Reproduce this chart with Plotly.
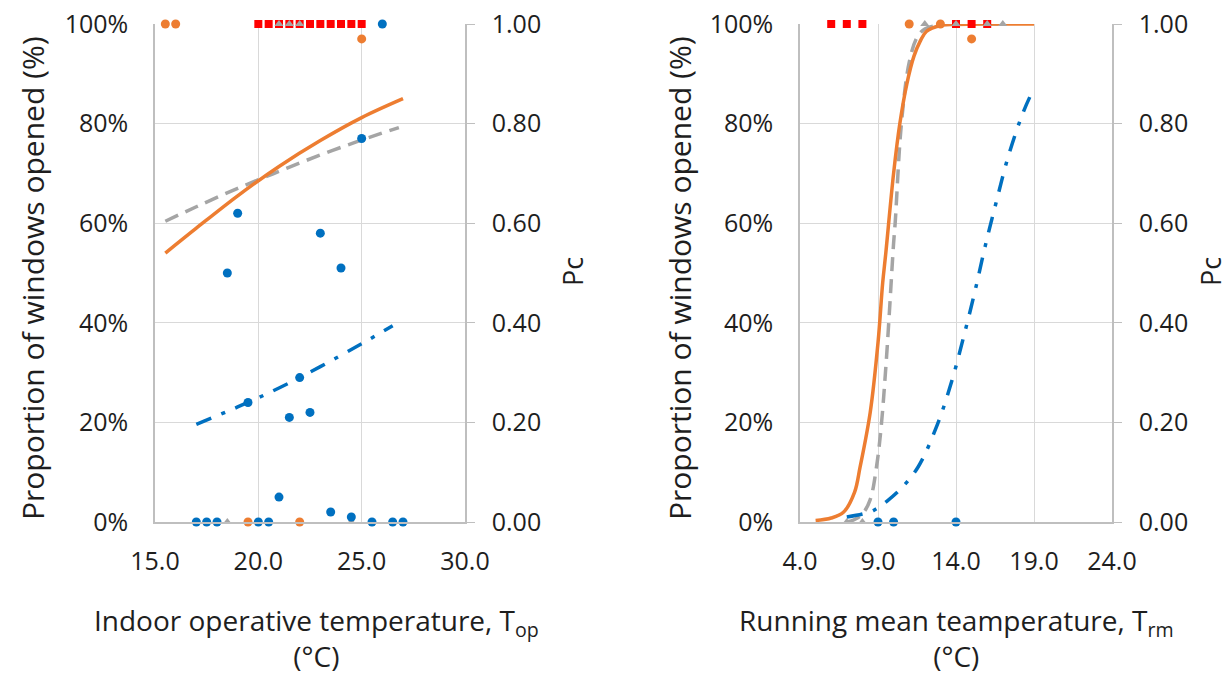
import plotly.graph_objects as go

# ---------------- Left panel: indoor operative temperature ----------------
L_blue_x = [26.0, 18.5, 19.0, 23.0, 24.0, 25.0, 19.5, 22.0, 21.5, 22.5, 21.0, 23.5, 24.5,
            17.0, 17.5, 18.0, 20.0, 20.5, 25.5, 26.5, 27.0]
L_blue_y = [1.00, 0.50, 0.62, 0.58, 0.51, 0.77, 0.24, 0.29, 0.21, 0.22, 0.05, 0.02, 0.01,
            0, 0, 0, 0, 0, 0, 0, 0]
L_orange_x = [15.5, 16.0, 25.0, 19.5, 22.0]
L_orange_y = [1.00, 1.00, 0.97, 0, 0]
L_gray_x = [21.0, 21.5, 22.0, 18.5, 24.5]
L_gray_y = [1, 1, 1, 0, 0]
L_red_x = [20.0, 20.5, 21.0, 21.5, 22.0, 22.5, 23.0, 23.5, 24.0, 24.5, 25.0]
L_red_y = [1] * 11

L_fit_orange_x = [15.5, 17, 19, 21, 23, 25, 27]
L_fit_orange_y = [0.54, 0.59, 0.655, 0.714, 0.766, 0.812, 0.85]
L_fit_gray_x = [15.5, 17, 19, 21, 23, 25, 26.8]
L_fit_gray_y = [0.604, 0.633, 0.670, 0.704, 0.737, 0.767, 0.792]
L_fit_blue_x = [17, 19, 21, 23, 25, 26.5]
L_fit_blue_y = [0.196, 0.231, 0.269, 0.312, 0.358, 0.394]

# ---------------- Right panel: running mean temperature ----------------
R_blue_x = [9.0, 10.0, 14.0]
R_blue_y = [0, 0, 0]
R_orange_x = [11.0, 13.0, 15.0]
R_orange_y = [1.00, 1.00, 0.97]
R_gray_x = [12.0, 14.0, 16.0, 17.0, 7.0, 8.0]
R_gray_y = [1, 1, 1, 1, 0, 0]
R_red_x = [6.0, 7.0, 8.0, 14.0, 15.0, 16.0]
R_red_y = [1] * 6

R_fit_orange_x = [5, 6, 6.8, 7.5, 7.85, 8.5, 9, 9.3, 9.5, 10, 10.4, 10.85, 11.3, 11.7, 12.1, 13, 14, 16, 19]
R_fit_orange_y = [0.003, 0.008, 0.02, 0.06, 0.11, 0.22, 0.36, 0.48, 0.54, 0.70, 0.80, 0.88, 0.935, 0.965, 0.985, 0.997, 0.999, 1.0, 1.0]
R_fit_gray_x = [7.0, 7.5, 8.0, 8.5, 8.9, 9.2, 9.5, 9.7, 10.0, 10.1, 10.5, 11.0, 11.5, 12.0, 13.0, 14.0, 17.0]
R_fit_gray_y = [0.0, 0.005, 0.016, 0.045, 0.11, 0.19, 0.31, 0.406, 0.56, 0.60, 0.80, 0.923, 0.973, 0.99, 0.998, 1.0, 1.0]
R_fit_blue_x = [7.0, 8.0, 8.7, 9.62, 10.5, 11.58, 12.81, 13.74, 14.5, 15.22, 15.88, 16.6, 17.35, 18.31, 19.0]
R_fit_blue_y = [0.010, 0.016, 0.023, 0.043, 0.068, 0.111, 0.196, 0.284, 0.373, 0.464, 0.555, 0.645, 0.734, 0.823, 0.871]

ORANGE = "#ED7D31"
BLUE = "#0070C0"
GRAY = "#A5A5A5"
RED = "#FF0000"
TXT = "#1E1E1E"
GRID = "#D9D9D9"
AXL = "#BFBFBF"
FONT = "Open Sans"

fig = go.Figure()


def add_panel(xa, ya, fo, fg, fb, red, gray, orange, blue):
    common = dict(xaxis=xa, yaxis=ya, showlegend=False, hoverinfo="skip")
    fig.add_trace(go.Scatter(x=fg[0], y=fg[1], mode="lines", line=dict(color=GRAY, width=3.5, dash="14px,8px", shape="spline"), **common))
    fig.add_trace(go.Scatter(x=fb[0], y=fb[1], mode="lines", line=dict(color=BLUE, width=3.5, dash="16px,11px,4px,11px", shape="spline"), **common))
    fig.add_trace(go.Scatter(x=fo[0], y=fo[1], mode="lines", line=dict(color=ORANGE, width=3.5, shape="spline"), **common))
    fig.add_trace(go.Scatter(x=red[0], y=red[1], mode="markers", cliponaxis=False,
                             marker=dict(symbol="square", color=RED, size=8), **common))
    fig.add_trace(go.Scatter(x=gray[0], y=gray[1], mode="markers", cliponaxis=False,
                             marker=dict(symbol="triangle-up", color=GRAY, size=8), **common))
    fig.add_trace(go.Scatter(x=orange[0], y=orange[1], mode="markers", cliponaxis=False,
                             marker=dict(symbol="circle", color=ORANGE, size=9), **common))
    fig.add_trace(go.Scatter(x=blue[0], y=blue[1], mode="markers", cliponaxis=False,
                             marker=dict(symbol="circle", color=BLUE, size=9), **common))


add_panel("x", "y",
          (L_fit_orange_x, L_fit_orange_y), (L_fit_gray_x, L_fit_gray_y), (L_fit_blue_x, L_fit_blue_y),
          (L_red_x, L_red_y), (L_gray_x, L_gray_y), (L_orange_x, L_orange_y), (L_blue_x, L_blue_y))
add_panel("x2", "y3",
          (R_fit_orange_x, R_fit_orange_y), (R_fit_gray_x, R_fit_gray_y), (R_fit_blue_x, R_fit_blue_y),
          (R_red_x, R_red_y), (R_gray_x, R_gray_y), (R_orange_x, R_orange_y), (R_blue_x, R_blue_y))

# invisible traces so the secondary (Pc) axes render
fig.add_trace(go.Scatter(x=[15], y=[0], xaxis="x", yaxis="y2", mode="markers", marker=dict(opacity=0), showlegend=False, hoverinfo="skip"))
fig.add_trace(go.Scatter(x=[4], y=[0], xaxis="x2", yaxis="y4", mode="markers", marker=dict(opacity=0), showlegend=False, hoverinfo="skip"))

W, H = 1229, 674
YD = [1 - 522 / H, 1 - 24 / H]
XD1 = [155 / W, 465 / W]
XD2 = [800 / W, 1112 / W]
tickfont = dict(family=FONT, size=25, color=TXT)

xcommon = dict(showgrid=True, gridcolor=GRID, gridwidth=1.3, showline=True, linecolor=AXL, linewidth=1.5,
               zeroline=False, ticks="", tickformat=".1f", tickfont=tickfont, ticklabelstandoff=16,
               automargin=False)
ycommon = dict(range=[0, 1], dtick=0.2, gridcolor=GRID, gridwidth=1.3, showline=True,
               linecolor=AXL, linewidth=1.5, zeroline=False, tickfont=tickfont, domain=YD, automargin=False)

fig.update_layout(
    width=W, height=H, autosize=False,
    margin=dict(l=0, r=0, t=0, b=0, pad=0),
    plot_bgcolor="white", paper_bgcolor="white",
    font=dict(family=FONT, color=TXT),
    xaxis=dict(domain=XD1, range=[15, 30], dtick=5, anchor="y", **xcommon),
    xaxis2=dict(domain=XD2, range=[4, 24], dtick=5, tick0=4, anchor="y3", **xcommon),
    yaxis=dict(anchor="x", tickformat=".0%", ticks="", ticklabelstandoff=20, showgrid=True, **ycommon),
    yaxis2=dict(anchor="x", overlaying="y", side="right", tickformat=".2f", ticks="outside", ticklen=8,
                tickcolor=AXL, ticklabelstandoff=12, showgrid=False, **ycommon),
    yaxis3=dict(anchor="x2", tickformat=".0%", ticks="", ticklabelstandoff=20, showgrid=True, **ycommon),
    yaxis4=dict(anchor="x2", overlaying="y3", side="right", tickformat=".2f", ticks="outside", ticklen=8,
                tickcolor=AXL, ticklabelstandoff=12, showgrid=False, **ycommon),
)

ann = [
    dict(x=33 / W, y=1 - 278 / H, text="Proportion of windows opened (%)", textangle=-90, size=30),
    dict(x=680 / W, y=1 - 278 / H, text="Proportion of windows opened (%)", textangle=-90, size=30),
    dict(x=573 / W, y=1 - 272 / H, text="Pc", textangle=-90, size=27),
    dict(x=1211 / W, y=1 - 272 / H, text="Pc", textangle=-90, size=27),
    dict(x=316 / W, y=1 - 638 / H, text="Indoor operative temperature, T<sub>op</sub><br>(°C)", size=28),
    dict(x=956 / W, y=1 - 638 / H, text="Running mean teamperature, T<sub>rm</sub><br>(°C)", size=28),
]
for a in ann:
    size = a.pop("size")
    fig.add_annotation(xref="paper", yref="paper", xanchor="center", yanchor="middle",
                       showarrow=False, font=dict(family=FONT, size=size, color=TXT), **a)

fig.write_html("out.html")
